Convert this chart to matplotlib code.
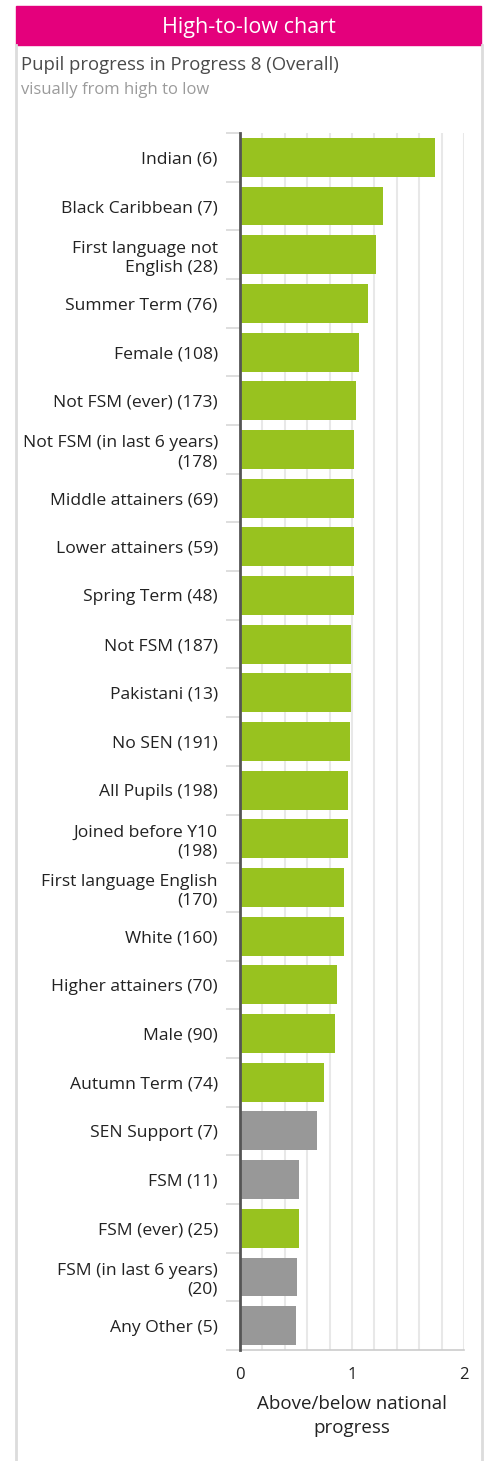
import numpy as np
import matplotlib
matplotlib.use("Agg")
import matplotlib.pyplot as plt
from matplotlib.patches import Rectangle
from matplotlib.lines import Line2D

plt.rcParams['font.family'] = ['Open Sans', 'DejaVu Sans']

# groups, top to bottom
labels = [
    "Indian (6)", "Black Caribbean (7)", "First language not\nEnglish (28)",
    "Summer Term (76)", "Female (108)", "Not FSM (ever) (173)",
    "Not FSM (in last 6 years)\n(178)", "Middle attainers (69)",
    "Lower attainers (59)", "Spring Term (48)", "Not FSM (187)",
    "Pakistani (13)", "No SEN (191)", "All Pupils (198)",
    "Joined before Y10\n(198)", "First language English\n(170)",
    "White (160)", "Higher attainers (70)", "Male (90)",
    "Autumn Term (74)", "SEN Support (7)", "FSM (11)", "FSM (ever) (25)",
    "FSM (in last 6 years)\n(20)", "Any Other (5)",
]
values = [
    1.74, 1.28, 1.21, 1.14, 1.06, 1.04, 1.02, 1.02, 1.02, 1.02, 0.99,
    0.99, 0.98, 0.96, 0.96, 0.93, 0.93, 0.87, 0.85, 0.75, 0.69, 0.53,
    0.53, 0.51, 0.50,
]
# True = significant (green), False = not significant (grey)
significant = [True] * 20 + [False, False, True, False, False]

GREEN = "#98c21f"
GREY = "#989898"
PINK = "#e4007c"

W, H = 487, 1461
fig = plt.figure(figsize=(W / 100, H / 100), dpi=100)

# card header and border
fig.patches.append(Rectangle((16 / W, 1 - 45 / H), 465 / W, 39 / H,
                             transform=fig.transFigure, color=PINK, zorder=0))
for px in (15.5, 481.5):
    fig.lines.append(Line2D([px / W, px / W], [0, 1 - 45 / H],
                            transform=fig.transFigure, color="#dcdcdc", lw=2))
fig.text(249 / W, 1 - 27 / H, "High-to-low chart", color="white",
         fontsize=15.5, ha="center", va="center")
fig.text(21 / W, 1 - 65 / H, "Pupil progress in Progress 8 (Overall)",
         color="#4a4a4a", fontsize=13.3, ha="left", va="center")
fig.text(21 / W, 1 - 90 / H, "visually from high to low",
         color="#9b9b9b", fontsize=12, ha="left", va="center")

ax = fig.add_axes([240 / W, 1 - 1350 / H, 224 / W, 1217 / H])
y = np.arange(len(labels))
colors = [GREEN if s else GREY for s in significant]
ax.barh(y, values, height=0.8, color=colors, zorder=3)

ax.set_xlim(0, 2)
ax.set_ylim(len(labels) - 0.5, -0.5)
ax.set_xticks([0, 1, 2])
ax.set_xticks(np.arange(0, 2.01, 0.2), minor=True)
ax.grid(axis="x", which="both", color="#e8e8e8", lw=1.5, zorder=0)
ax.set_yticks(y)
ax.set_yticklabels(labels, fontsize=12.6, color="#222222", linespacing=1.25)
ax.set_yticks(np.arange(-0.5, len(labels), 1), minor=True)
ax.tick_params(axis="y", which="major", length=0, pad=16)
ax.tick_params(axis="y", which="minor", length=10, color="#d8d8d8", width=1.2)
ax.tick_params(axis="x", which="both", length=0, pad=12, labelsize=12,
               labelcolor="#222222")

for s in ("top", "right"):
    ax.spines[s].set_visible(False)
ax.spines["left"].set_color("#555555")
ax.spines["left"].set_linewidth(2)
ax.spines["left"].set_zorder(5)
ax.spines["bottom"].set_color("#cccccc")
ax.spines["bottom"].set_linewidth(1.2)

ax.set_xlabel("Above/below national\nprogress", fontsize=13.5,
              color="#222222", labelpad=9, linespacing=1.45)

fig.savefig("out.png", dpi=100)
